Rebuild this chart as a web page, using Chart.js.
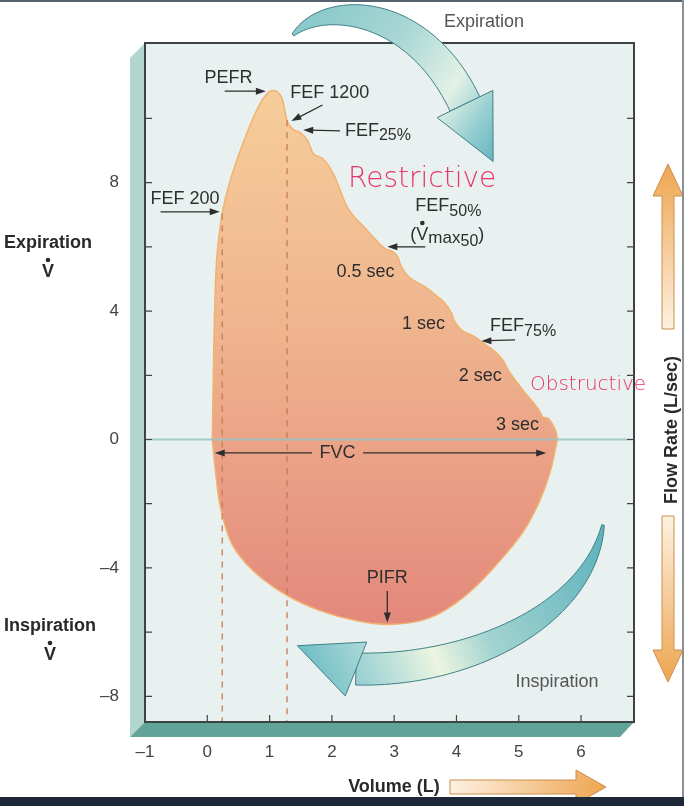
<!DOCTYPE html>
<html>
<head>
<meta charset="utf-8">
<title>Flow-volume loop</title>
<script src="https://cdn.jsdelivr.net/npm/chart.js@4.4.1/dist/chart.umd.min.js"></script>
<style>
  html, body { margin: 0; padding: 0; background: #fff; }
  canvas { display: block; }
</style>
</head>
<body>
<canvas id="myChart" width="684" height="806"></canvas>
<script>
// expiration limb (volume in L, flow in L/sec)
var expVolume = [0.08, 0.09, 0.11, 0.14, 0.18, 0.24, 0.37, 0.53, 0.74, 0.90, 1.04, 1.20, 1.28, 1.36, 1.49, 1.61, 1.70, 1.85, 2.02, 2.25, 2.54, 2.83, 3.07, 3.10, 3.58, 3.93, 3.96, 4.33, 4.75, 4.81, 5.07, 5.35, 5.38, 5.46, 5.55, 5.60, 5.62];
var expFlow = [0, 1.2, 3.4, 5.26, 6.2, 7.04, 8.07, 9.0, 10.03, 10.62, 10.87, 10.62, 9.94, 9.69, 9.56, 9.31, 8.91, 8.75, 8.29, 7.23, 6.57, 5.98, 5.64, 5.45, 4.64, 3.9, 3.72, 3.15, 2.46, 2.23, 1.53, 0.83, 0.7, 0.67, 0.44, 0.22, 0];

// inspiration limb
var inspVolume = [0.08, 0.13, 0.19, 0.26, 0.37, 0.58, 0.88, 1.28, 1.81, 2.38, 2.89, 3.58, 4.11, 4.70, 5.18, 5.51, 5.62];
var inspFlow = [0, -0.97, -1.9, -2.5, -3.15, -3.77, -4.33, -4.86, -5.33, -5.64, -5.76, -5.55, -4.92, -3.77, -2.52, -0.97, 0];

// FEF 200 and FEF 1200 dashed markers
var markerVolume = [0.24, 1.28];
var markerFlow = [7.04, 9.94];
var flowBottom = -8.8;

var volumeTicks = [-1, 0, 1, 2, 3, 4, 5, 6];
var flowTicks = [-8, -6, -4, -2, 0, 2, 4, 6, 8, 10];
var flowLabels = [-8, -4, 0, 4, 8];

var FONT = '"Liberation Sans", Arial, sans-serif';

function toPoints(xs, ys) {
    var pts = [];
    for (var i = 0; i < xs.length; i++) {
        pts.push({x: xs[i], y: ys[i]});
    }
    return pts;
}

function loopFill(context) {
    var chart = context.chart;
    if (!chart.chartArea) return '#eeac88';
    var ys = chart.scales.y;
    var g = chart.ctx.createLinearGradient(0, ys.getPixelForValue(11), 0, ys.getPixelForValue(-6));
    g.addColorStop(0, '#f7cd9b');
    g.addColorStop(0.45, '#efb48e');
    g.addColorStop(0.65, '#eba487');
    g.addColorStop(1, '#e3877c');
    return g;
}

function arrowLine(c, x1, y1, x2, y2) {
    var a = Math.atan2(y2 - y1, x2 - x1);
    var ca = Math.cos(a), sa = Math.sin(a);
    c.beginPath();
    c.moveTo(x1, y1);
    c.lineTo(x2 - 7 * ca, y2 - 7 * sa);
    c.stroke();
    c.beginPath();
    c.moveTo(x2, y2);
    c.lineTo(x2 - 10 * ca + 3.5 * sa, y2 - 10 * sa - 3.5 * ca);
    c.lineTo(x2 - 10 * ca - 3.5 * sa, y2 - 10 * sa + 3.5 * ca);
    c.closePath();
    c.fill();
}

function subText(c, main, sub, x, y) {
    c.textAlign = 'left';
    c.font = '18px ' + FONT;
    c.fillText(main, x, y);
    var w = c.measureText(main).width;
    c.font = '16px ' + FONT;
    c.fillText(sub, x + w, y + 5);
}

function vDot(c, x, y, font) {
    c.font = font;
    c.textAlign = 'center';
    c.fillText('V', x, y);
    c.beginPath();
    c.arc(x, y - 12, 2.3, 0, Math.PI * 2);
    c.fill();
}

function bez(p, t) {
    var u = 1 - t;
    return [u * u * u * p[0][0] + 3 * u * u * t * p[1][0] + 3 * u * t * t * p[2][0] + t * t * t * p[3][0],
            u * u * u * p[0][1] + 3 * u * u * t * p[1][1] + 3 * u * t * t * p[2][1] + t * t * t * p[3][1]];
}

function bezD(p, t) {
    var u = 1 - t;
    return [3 * u * u * (p[1][0] - p[0][0]) + 6 * u * t * (p[2][0] - p[1][0]) + 3 * t * t * (p[3][0] - p[2][0]),
            3 * u * u * (p[1][1] - p[0][1]) + 6 * u * t * (p[2][1] - p[1][1]) + 3 * t * t * (p[3][1] - p[2][1])];
}

// big curved arrow: tapered body along a bezier + triangular head
function curvedArrow(c, p, w1, headDir, headW, headL, grad) {
    var left = [], right = [];
    for (var i = 0; i <= 50; i++) {
        var t = i / 50;
        var pt = bez(p, t), d = bezD(p, t);
        var len = Math.hypot(d[0], d[1]);
        var nx = -d[1] / len, ny = d[0] / len;
        var w = w1 * (1 - 0.92 * (1 - t) * (1 - t));
        left.push([pt[0] + nx * w, pt[1] + ny * w]);
        right.push([pt[0] - nx * w, pt[1] - ny * w]);
    }
    c.fillStyle = grad;
    c.strokeStyle = '#3f8088';
    c.lineWidth = 1;
    c.beginPath();
    c.moveTo(left[0][0], left[0][1]);
    for (var j = 1; j < left.length; j++) c.lineTo(left[j][0], left[j][1]);
    for (var k = right.length - 1; k >= 0; k--) c.lineTo(right[k][0], right[k][1]);
    c.closePath();
    c.fill();
    c.stroke();
    var e = p[3];
    var dl = Math.hypot(headDir[0], headDir[1]);
    var dx = headDir[0] / dl, dy = headDir[1] / dl;
    c.beginPath();
    c.moveTo(e[0] - dy * headW, e[1] + dx * headW);
    c.lineTo(e[0] + dx * headL, e[1] + dy * headL);
    c.lineTo(e[0] + dy * headW, e[1] - dx * headW);
    c.closePath();
    c.fill();
    c.stroke();
}

function polyFill(c, pts, fill, stroke) {
    c.beginPath();
    c.moveTo(pts[0][0], pts[0][1]);
    for (var i = 1; i < pts.length; i++) c.lineTo(pts[i][0], pts[i][1]);
    c.closePath();
    c.fillStyle = fill;
    c.fill();
    c.strokeStyle = stroke;
    c.lineWidth = 1;
    c.stroke();
}

var loopDecor = {
    id: 'loopDecor',
    beforeDraw: function (chart) {
        var c = chart.ctx, a = chart.chartArea;
        c.save();
        c.fillStyle = '#fff';
        c.fillRect(0, 0, chart.width, chart.height);
        // 3d shadow of the plot box
        c.fillStyle = '#b2d6cf';
        c.beginPath();
        c.moveTo(a.left - 15, a.top + 15);
        c.lineTo(a.left, a.top);
        c.lineTo(a.left, a.bottom);
        c.lineTo(a.left - 15, a.bottom + 15);
        c.closePath();
        c.fill();
        c.fillStyle = '#62a397';
        c.beginPath();
        c.moveTo(a.left - 15, a.bottom + 15);
        c.lineTo(a.left, a.bottom);
        c.lineTo(a.right, a.bottom);
        c.lineTo(a.right - 14, a.bottom + 15);
        c.closePath();
        c.fill();
        c.fillStyle = '#e8f0f0';
        c.fillRect(a.left, a.top, a.right - a.left, a.bottom - a.top);
        c.restore();
    },
    afterDatasetsDraw: function (chart) {
        var c = chart.ctx, a = chart.chartArea;
        var xs = chart.scales.x, ys = chart.scales.y;
        var X = function (v) { return xs.getPixelForValue(v); };
        var Y = function (v) { return ys.getPixelForValue(v); };
        c.save();
        // zero flow line
        c.strokeStyle = 'rgba(150,196,192,0.85)';
        c.lineWidth = 2;
        c.beginPath();
        c.moveTo(a.left, Y(0));
        c.lineTo(a.right, Y(0));
        c.stroke();

        // frame
        c.strokeStyle = '#3a4444';
        c.lineWidth = 2;
        c.strokeRect(a.left, a.top, a.right - a.left, a.bottom - a.top);

        // inner tick marks
        c.lineWidth = 1.2;
        c.strokeStyle = '#444';
        flowTicks.forEach(function (v) {
            c.beginPath();
            c.moveTo(a.left, Y(v)); c.lineTo(a.left + 7, Y(v));
            c.moveTo(a.right, Y(v)); c.lineTo(a.right - 7, Y(v));
            c.stroke();
        });
        volumeTicks.forEach(function (v) {
            if (v <= -1) return;
            c.beginPath();
            c.moveTo(X(v), a.bottom); c.lineTo(X(v), a.bottom - 7);
            c.stroke();
        });

        // annotations
        c.fillStyle = '#2e2e2e';
        c.strokeStyle = '#2e2e2e';
        c.lineWidth = 1.3;
        c.textBaseline = 'middle';
        c.font = '18px ' + FONT;
        c.textAlign = 'center';
        c.fillText('PEFR', X(0.34), Y(11.25));
        arrowLine(c, X(0.28), Y(10.85), X(0.94), Y(10.85));

        c.textAlign = 'left';
        c.fillText('FEF 1200', X(1.33), Y(10.8));
        arrowLine(c, X(1.85), Y(10.42), X(1.35), Y(9.92));

        arrowLine(c, X(2.13), Y(9.61), X(1.54), Y(9.64));
        subText(c, 'FEF', '25%', X(2.21), Y(9.62));

        c.font = '18px ' + FONT;
        c.fillText('FEF 200', X(-0.91), Y(7.49));
        arrowLine(c, X(-0.75), Y(7.09), X(0.2), Y(7.09));

        subText(c, 'FEF', '50%', X(3.34), Y(7.26));
        // (V-dot max50)
        var bx = X(3.26), by = Y(6.37);
        c.font = '18px ' + FONT;
        c.textAlign = 'left';
        c.fillText('(', bx, by);
        var w1 = c.measureText('(').width;
        vDot(c, bx + w1 + 6, by, '18px ' + FONT);
        var w2 = w1 + 12;
        c.textAlign = 'left';
        c.font = '17px ' + FONT;
        c.fillText('max', bx + w2, by + 3);
        w2 += c.measureText('max').width;
        c.font = '16px ' + FONT;
        c.fillText('50', bx + w2, by + 7);
        w2 += c.measureText('50').width;
        c.font = '18px ' + FONT;
        c.fillText(')', bx + w2, by);
        arrowLine(c, X(3.5), Y(6.0), X(2.89), Y(6.0));

        c.font = '18px ' + FONT;
        c.textAlign = 'center';
        c.fillText('0.5 sec', X(2.54), Y(5.22));
        c.fillText('1 sec', X(3.47), Y(3.6));
        c.fillText('2 sec', X(4.38), Y(1.98));
        c.fillText('3 sec', X(4.98), Y(0.45));

        subText(c, 'FEF', '75%', X(4.54), Y(3.52));
        arrowLine(c, X(4.94), Y(3.1), X(4.40), Y(3.07));

        // FVC double arrow
        c.font = '18px ' + FONT;
        c.textAlign = 'center';
        c.fillText('FVC', X(2.09), Y(-0.42));
        arrowLine(c, X(1.68), Y(-0.42), X(0.12), Y(-0.42));
        arrowLine(c, X(2.5), Y(-0.42), X(5.44), Y(-0.42));

        c.fillText('PIFR', X(2.89), Y(-4.32));
        arrowLine(c, X(2.89), Y(-4.72), X(2.89), Y(-5.7));
        c.restore();
    },
    afterDraw: function (chart) {
        var c = chart.ctx;
        c.save();
        // expiration arrow (top)
        var g1 = c.createLinearGradient(293, 20, 500, 160);
        g1.addColorStop(0, '#86c7ca');
        g1.addColorStop(0.4, '#a9d7d4');
        g1.addColorStop(0.68, '#e2f1e6');
        g1.addColorStop(0.85, '#93cdd0');
        g1.addColorStop(1, '#5fb1bd');
        curvedArrow(c, [[293, 35], [325, 0], [418, 5], [465, 104]], 16.5, [0.44, 0.9], 31, 64, g1);

        // inspiration arrow (bottom)
        var g2 = c.createLinearGradient(603, 525, 297, 650);
        g2.addColorStop(0, '#5cb2bd');
        g2.addColorStop(0.45, '#a3d3d0');
        g2.addColorStop(0.62, '#ecf5e1');
        g2.addColorStop(0.82, '#a6d6d5');
        g2.addColorStop(1, '#6dbdc6');
        curvedArrow(c, [[603, 525], [588, 615], [470, 672], [356, 669]], 16, [-0.93, -0.37], 29, 63, g2);

        c.textBaseline = 'middle';
        c.fillStyle = '#555';
        c.font = '18px ' + FONT;
        c.textAlign = 'center';
        c.fillText('Expiration', 484, 22);
        c.fillText('Inspiration', 557, 682);

        // left side labels
        c.fillStyle = '#2a2a2a';
        c.font = 'bold 18px ' + FONT;
        c.fillText('Expiration', 48, 243);
        vDot(c, 48, 272, 'bold 18px ' + FONT);
        c.font = 'bold 18px ' + FONT;
        c.textAlign = 'center';
        c.fillText('Inspiration', 50, 626);
        vDot(c, 50, 655, 'bold 18px ' + FONT);

        // right side: flow rate with orange arrows
        var g3 = c.createLinearGradient(0, 164, 0, 329);
        g3.addColorStop(0, '#eea550');
        g3.addColorStop(1, '#fdf1e2');
        polyFill(c, [[662, 329], [662, 196], [653, 196], [668, 164], [683, 196], [674, 196], [674, 329]], g3, '#c98f4c');
        var g4 = c.createLinearGradient(0, 516, 0, 682);
        g4.addColorStop(0, '#fdf1e2');
        g4.addColorStop(1, '#eea550');
        polyFill(c, [[662, 516], [674, 516], [674, 650], [683, 650], [668, 682], [653, 650], [662, 650]], g4, '#c98f4c');

        c.save();
        c.translate(672, 430);
        c.rotate(-Math.PI / 2);
        c.fillStyle = '#2a2a2a';
        c.font = 'bold 18px ' + FONT;
        c.textAlign = 'center';
        c.fillText('Flow Rate (L/sec)', 0, 0);
        c.restore();

        // volume arrow
        c.fillStyle = '#2a2a2a';
        c.font = 'bold 18px ' + FONT;
        c.textAlign = 'center';
        c.fillText('Volume (L)', 394, 787);
        var g5 = c.createLinearGradient(450, 0, 606, 0);
        g5.addColorStop(0, '#fdf1e2');
        g5.addColorStop(1, '#eea550');
        polyFill(c, [[450, 780], [576, 780], [576, 770], [606, 787], [576, 804], [576, 794], [450, 794]], g5, '#c98f4c');

        // handwritten notes
        c.fillStyle = '#e8336b';
        c.textAlign = 'left';
        c.textBaseline = 'alphabetic';
        c.font = '200 28px "DejaVu Sans", sans-serif';
        c.fillText('Restrictive', 348, 187);
        c.font = '200 20px "DejaVu Sans", sans-serif';
        c.fillText('Obstructive', 530, 390);

        // screenshot edges
        c.fillStyle = '#1d2939';
        c.fillRect(0, 797, chart.width, 9);
        c.fillStyle = '#56626e';
        c.fillRect(0, 0, chart.width, 2);
        c.fillStyle = '#8a9298';
        c.fillRect(682, 0, 2, 797);
        c.restore();
    }
};

var ctx = document.getElementById('myChart').getContext('2d');
var chart = new Chart(ctx, {
    type: 'line',
    data: {
        datasets: [
            {
                data: [{x: markerVolume[0], y: markerFlow[0]}, {x: markerVolume[0], y: flowBottom}],
                borderColor: '#c47a52',
                borderWidth: 1.3,
                borderDash: [6, 6],
                pointRadius: 0,
                fill: false,
                order: 0
            },
            {
                data: [{x: markerVolume[1], y: markerFlow[1]}, {x: markerVolume[1], y: flowBottom}],
                borderColor: '#c47a52',
                borderWidth: 1.3,
                borderDash: [6, 6],
                pointRadius: 0,
                fill: false,
                order: 0
            },
            {
                label: 'Expiration',
                data: toPoints(expVolume, expFlow),
                borderColor: '#f2b26c',
                borderWidth: 1.5,
                backgroundColor: loopFill,
                cubicInterpolationMode: 'monotone',
                pointRadius: 0,
                fill: 'origin',
                order: 1
            },
            {
                label: 'Inspiration',
                data: toPoints(inspVolume, inspFlow),
                borderColor: '#f2b26c',
                borderWidth: 1.5,
                backgroundColor: loopFill,
                cubicInterpolationMode: 'monotone',
                pointRadius: 0,
                fill: 'origin',
                order: 1
            }
        ]
    },
    options: {
        responsive: false,
        animation: false,
        devicePixelRatio: 1,
        layout: {padding: {left: 0, top: 43, right: 50, bottom: 0}},
        plugins: {
            legend: {display: false},
            tooltip: {enabled: false},
            title: {display: false}
        },
        scales: {
            x: {
                type: 'linear',
                min: -1,
                max: 6.85,
                grid: {display: false, drawTicks: false},
                border: {display: false},
                afterBuildTicks: function (s) {
                    s.ticks = volumeTicks.map(function (v) { return {value: v}; });
                },
                afterFit: function (s) { s.height = 84; },
                ticks: {
                    padding: 20,
                    color: '#444',
                    autoSkip: false,
                    maxRotation: 0,
                    font: {family: 'Liberation Sans', size: 17},
                    callback: function (v) { return v < 0 ? '\u2013' + Math.abs(v) : '' + v; }
                }
            },
            y: {
                type: 'linear',
                min: -8.8,
                max: 12.35,
                grid: {display: false, drawTicks: false},
                border: {display: false},
                afterBuildTicks: function (s) {
                    s.ticks = flowTicks.map(function (v) { return {value: v}; });
                },
                afterFit: function (s) { s.width = 145; },
                ticks: {
                    padding: 26,
                    color: '#444',
                    autoSkip: false,
                    font: {family: 'Liberation Sans', size: 17},
                    callback: function (v) {
                        if (flowLabels.indexOf(v) < 0) return '';
                        return v < 0 ? '\u2013' + Math.abs(v) : '' + v;
                    }
                }
            }
        }
    },
    plugins: [loopDecor]
});
</script>
</body>
</html>
